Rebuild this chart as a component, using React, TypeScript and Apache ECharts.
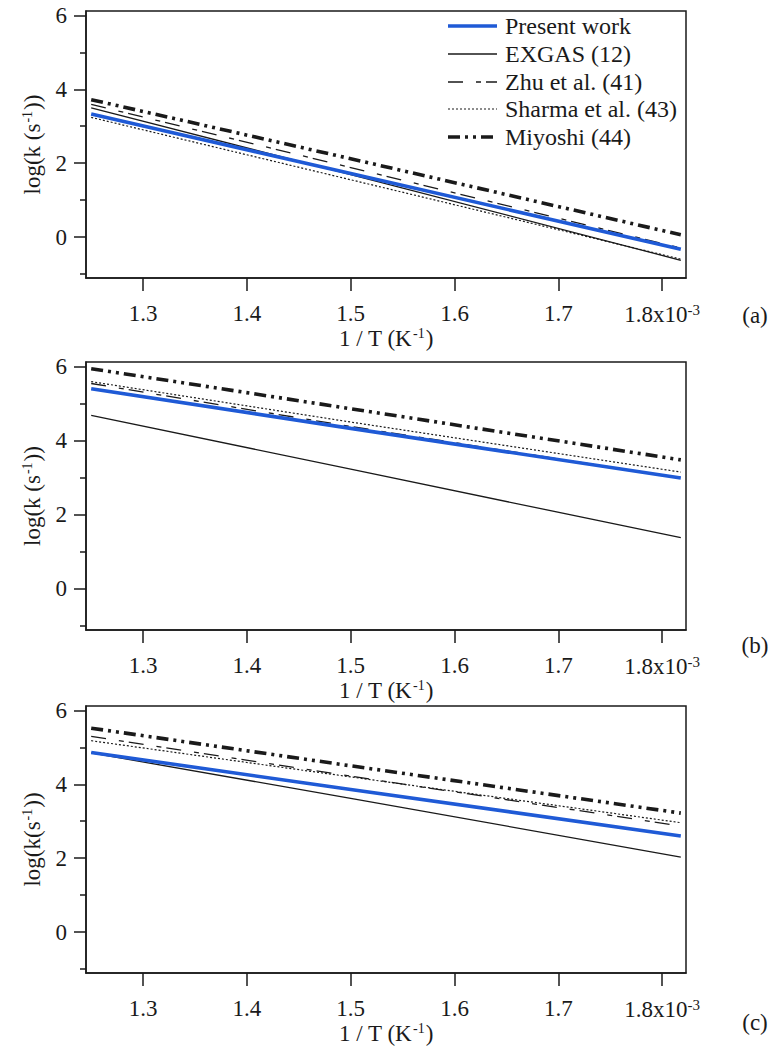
import React, { useEffect, useRef } from "react";
import * as echarts from "echarts";

// x positions (1/T, in units of 1e-3 K^-1)
const xPts = [1.25, 1.5, 1.818];

// Panel (a)
const aPresent = [3.33, 1.72, -0.33];
const aExgas = [3.5, 1.69, -0.63];
const aZhu = [3.59, 1.88, -0.3];
const aSharma = [3.24, 1.55, -0.6];
const aMiyoshi = [3.72, 2.12, 0.06];

// Panel (b)
const bPresent = [5.4, 4.33, 2.99];
const bExgas = [4.68, 3.23, 1.38];
const bZhu = [5.54, 4.38, 2.99];
const bSharma = [5.59, 4.5, 3.15];
const bMiyoshi = [5.94, 4.86, 3.48];

// Panel (c)
const cPresent = [4.86, 3.86, 2.6];
const cExgas = [4.85, 3.62, 2.03];
const cZhu = [5.3, 4.22, 2.87];
const cSharma = [5.18, 4.2, 2.96];
const cMiyoshi = [5.52, 4.5, 3.22];

const seriesNames = ["Present work", "EXGAS (12)", "Zhu et al. (41)", "Sharma et al. (43)", "Miyoshi (44)"];
const xTicks = [1.3, 1.4, 1.5, 1.6, 1.7, 1.8];
const yMajor = [0, 2, 4, 6];
const yMinor = [-1, 1, 3, 5];
const panelLabels = ["(a)", "(b)", "(c)"];
const yTitles = ["log(k (s", "log(k (s", "log(k(s"];

const FONT = "Liberation Serif";
const INK = "#1a1a1a";

const styles: any[] = [
  { color: "#1f5ad6", width: 3.6, dash: null },
  { color: INK, width: 1.3, dash: null },
  { color: INK, width: 1.3, dash: [15, 13, 5, 5] },
  { color: INK, width: 1.2, dash: [2, 2] },
  { color: INK, width: 3.6, dash: [12, 5, 3, 5, 3, 5] },
];

const grids = [
  { left: 86, top: 11, width: 600, height: 267 },
  { left: 86, top: 362, width: 600, height: 268 },
  { left: 86, top: 706, width: 600, height: 267 },
];
const labelY = [315, 645, 1022];
const legendRows = [26, 54, 82, 109, 137];

export default function App() {
  const ref = useRef<HTMLDivElement>(null);
  useEffect(() => {
    document.body.style.margin = "0";
    const chart = echarts.init(ref.current!, null, { renderer: "svg" });
    const panels = [
      [aPresent, aExgas, aZhu, aSharma, aMiyoshi],
      [bPresent, bExgas, bZhu, bSharma, bMiyoshi],
      [cPresent, cExgas, cZhu, cSharma, cMiyoshi],
    ];
    const rich = {
      n: { fontFamily: FONT, fontSize: 23, color: INK },
      s: { fontFamily: FONT, fontSize: 14, color: INK, verticalAlign: "top", padding: [0, 1, 10, 1] },
    };
    const tickRich = {
      n: { fontFamily: FONT, fontSize: 23, color: INK },
      s: { fontFamily: FONT, fontSize: 15, color: INK, verticalAlign: "top", padding: [0, 0, 10, 0] },
    };
    const xAxes: any[] = [];
    const yAxes: any[] = [];
    const series: any[] = [];
    grids.forEach((g, i) => {
      xAxes.push({
        type: "value",
        gridIndex: i,
        min: 1.245,
        max: 1.823,
        name: "{n|1 / T (K}{s|-1}{n|)}",
        nameLocation: "middle",
        nameGap: 43,
        nameTextStyle: { fontFamily: FONT, fontSize: 23, color: INK, rich },
        axisLine: { onZero: false, lineStyle: { color: INK, width: 1.5 } },
        axisTick: { show: true, inside: false, length: 13, lineStyle: { color: INK, width: 1.5 }, customValues: xTicks },
        axisLabel: {
          margin: 24,
          customValues: xTicks,
          fontFamily: FONT,
          fontSize: 23,
          color: INK,
          formatter: (v: number) => (v > 1.79 ? "{n|1.8x10}{s|-3}" : "{n|" + v.toFixed(1) + "}"),
          rich: tickRich,
        },
        splitLine: { show: false },
      });
      yAxes.push({
        type: "value",
        gridIndex: i,
        min: -1.11,
        max: 6.12,
        name: "{n|" + yTitles[i] + "}{s|-1}{n|))}",
        nameLocation: "middle",
        nameRotate: 90,
        nameGap: 42,
        nameTextStyle: { fontFamily: FONT, fontSize: 23, color: INK, rich },
        axisLine: { show: true, onZero: false, lineStyle: { color: INK, width: 1.5 } },
        axisTick: { show: true, inside: false, length: 12, lineStyle: { color: INK, width: 1.5 }, customValues: yMajor },
        axisLabel: {
          margin: 19,
          customValues: yMajor,
          fontFamily: FONT,
          fontSize: 23,
          color: INK,
          formatter: (v: number) => "{n|" + v + "}",
          rich: tickRich,
        },
        splitLine: { show: false },
      });
      yAxes.push({
        type: "value",
        gridIndex: i,
        position: "left",
        min: -1.11,
        max: 6.12,
        axisLine: { show: false, onZero: false },
        axisTick: { show: true, inside: false, length: 6, lineStyle: { color: INK, width: 1.5 }, customValues: yMinor },
        axisLabel: { show: false },
        splitLine: { show: false },
      });
      panels[i].forEach((vals, k) => {
        series.push({
          type: "line",
          name: seriesNames[k],
          xAxisIndex: i,
          yAxisIndex: i * 2,
          symbol: "none",
          z: k === 0 ? 3 : 2,
          lineStyle: {
            color: styles[k].color,
            width: styles[k].width,
            type: styles[k].dash ? styles[k].dash : "solid",
            cap: "butt",
          },
          itemStyle: { color: styles[k].color },
          data: xPts.map((x, j) => [x, vals[j]]),
        });
      });
    });

    const graphics: any[] = [];
    panelLabels.forEach((t, i) => {
      graphics.push({
        type: "text",
        x: 755,
        y: labelY[i],
        style: { text: t, fontFamily: FONT, fontSize: 23, fill: INK, align: "center", verticalAlign: "middle" },
      });
    });
    seriesNames.forEach((name, k) => {
      graphics.push({
        type: "line",
        shape: { x1: 448, y1: legendRows[k], x2: 497, y2: legendRows[k] },
        style: { stroke: styles[k].color, lineWidth: styles[k].width, lineDash: styles[k].dash, lineCap: "butt" },
      });
      graphics.push({
        type: "text",
        x: 505,
        y: legendRows[k],
        style: { text: name, fontFamily: FONT, fontSize: 24, fill: INK, align: "left", verticalAlign: "middle" },
      });
    });

    chart.setOption({
      animation: false,
      backgroundColor: "#ffffff",
      textStyle: { fontFamily: FONT, fontSize: 22, color: INK },
      grid: grids.map((g) => ({ ...g, show: true, borderColor: INK, borderWidth: 1.5, backgroundColor: "transparent" })),
      xAxis: xAxes,
      yAxis: yAxes,
      series,
      graphic: graphics,
    });
    return () => chart.dispose();
  }, []);
  return <div ref={ref} style={{ width: 779, height: 1048 }} />;
}
